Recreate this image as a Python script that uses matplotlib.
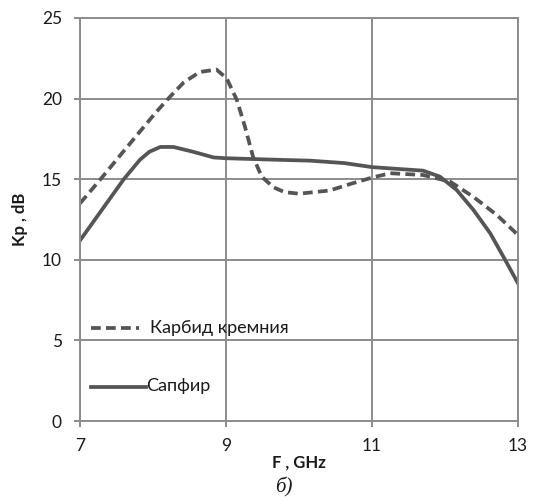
import matplotlib
matplotlib.use("Agg")
import matplotlib.pyplot as plt

# Data
f_sic = [7.0, 7.3, 7.6, 7.82, 8.05, 8.23, 8.42, 8.64, 8.87, 9.01, 9.15, 9.26, 9.37, 9.49,
         9.65, 9.8, 10.0, 10.42, 10.7, 11.0, 11.25, 11.7, 12.07, 12.39, 12.71, 13.0]
kp_sic = [13.5, 15.1, 16.75, 17.95, 19.2, 20.1, 21.0, 21.65, 21.8, 21.25, 19.9, 18.25, 16.4, 15.15,
          14.5, 14.2, 14.1, 14.3, 14.7, 15.1, 15.37, 15.26, 14.85, 13.9, 12.78, 11.54]

f_sap = [7.0, 7.3, 7.6, 7.82, 7.95, 8.1, 8.28, 8.55, 8.83, 9.0, 9.74, 10.15, 10.62, 11.0,
         11.25, 11.7, 11.93, 12.16, 12.39, 12.62, 12.8, 13.0]
kp_sap = [11.2, 13.1, 15.0, 16.2, 16.7, 17.0, 17.0, 16.7, 16.35, 16.3, 16.2, 16.15, 16.0, 15.75,
          15.67, 15.53, 15.16, 14.33, 13.09, 11.64, 10.19, 8.54]

x_ticks = [7, 9, 11, 13]
y_ticks = [0, 5, 10, 15, 20, 25]
label_sic = "Карбид кремния"
label_sap = "Сапфир"

plt.rcParams['font.family'] = ['Lato', 'DejaVu Sans']

fig = plt.figure(figsize=(5.38, 4.97), dpi=100)
ax = fig.add_axes([80 / 538, 1 - 421 / 497, 438 / 538, 403 / 497])

lc = '#555555'
dash = (0, (2.6, 1.4))
ax.plot(f_sic, kp_sic, color=lc, lw=2.7, linestyle=dash, label=label_sic)
ax.plot(f_sap, kp_sap, color=lc, lw=2.7, label=label_sap)

ax.set_xlim(7, 13)
ax.set_ylim(0, 25)
ax.set_xticks(x_ticks)
ax.set_yticks(y_ticks)
ax.grid(True, color='#8c8c8c', lw=1.4)
ax.set_axisbelow(True)
for s in ax.spines.values():
    s.set_color('#8c8c8c')
    s.set_linewidth(1.4)
ax.tick_params(axis='both', color='#8c8c8c', width=1.4, length=4.5, labelsize=12.5,
               labelcolor='#1a1a1a')
ax.tick_params(axis='x', pad=8)
ax.tick_params(axis='y', pad=8.5)

ax.set_xlabel("F , GHz", fontweight='bold', fontsize=12, color='#1a1a1a', labelpad=0)
ax.set_ylabel("Kp , dB", fontweight='bold', fontsize=12, color='#1a1a1a', labelpad=10)

# legend drawn at the reference position (inside axes)
ax.plot([0.025, 0.135], [0.230, 0.230], transform=ax.transAxes, color=lc, lw=2.7,
        linestyle=dash)
ax.text(0.159, 0.232, label_sic, transform=ax.transAxes, va='center', ha='left',
        fontsize=13, color='#1a1a1a')
ax.plot([0.025, 0.15], [0.085, 0.085], transform=ax.transAxes, color=lc, lw=2.7)
ax.text(0.151, 0.087, label_sap, transform=ax.transAxes, va='center', ha='left',
        fontsize=13, color='#1a1a1a')

fig.text(284 / 538, 1 - 487 / 497, "б)", family='Liberation Serif', style='italic',
         fontsize=15, ha='center', va='center', color='#1a1a1a')

fig.savefig("out.png", dpi=100, facecolor='white')
